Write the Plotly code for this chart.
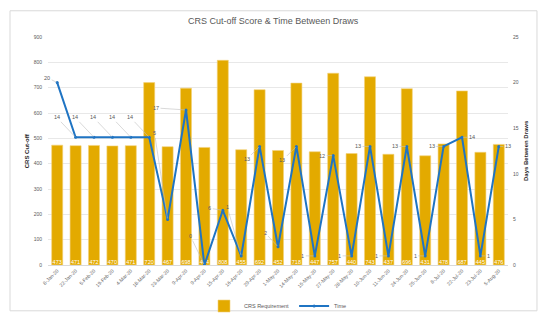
import plotly.graph_objects as go

dates = ["8-Jan-20", "22-Jan-20", "5-Feb-20", "19-Feb-20", "4-Mar-20", "18-Mar-20",
         "23-Mar-20", "9-Apr-20", "9-Apr-20", "15-Apr-20", "16-Apr-20", "29-Apr-20",
         "1-May-20", "14-May-20", "15-May-20", "27-May-20", "28-May-20", "10-Jun-20",
         "11-Jun-20", "24-Jun-20", "25-Jun-20", "8-Jul-20", "22-Jul-20", "23-Jul-20",
         "5-Aug-20"]
crs = [473, 471, 472, 470, 471, 720, 467, 698, 464, 808, 455, 692, 452, 718, 447,
       757, 440, 743, 437, 696, 431, 478, 687, 445, 476]
days = [20, 14, 14, 14, 14, 14, 5, 17, 0, 6, 1, 13, 2, 13, 1, 12, 1, 13, 1, 13, 1,
        13, 14, 1, 13]
left_ticks = [0, 100, 200, 300, 400, 500, 600, 700, 800, 900]
right_ticks = [0, 5, 10, 15, 20, 25]

# label offsets (pixels) for the line data labels (style only)
label_offsets = [(-10, -5), (-19, -20), (-19, -20), (-19, -20), (-19, -20), (-19, -20),
                 (-13, -86), (-30, -2), (-14, -29), (-13, -2), (-14, -49), (-13, 13),
                 (-13, -14), (-14, 14), (-12, 0), (-11, 0), (-12, 0), (-12, 0),
                 (-12, 0), (-12, 0), (-10, 0), (-12, 0), (10, 0), (8, 0), (9, 0)]

xs = list(range(len(dates)))
GOLD = "#E3AA00"
BLUE = "#1F74C3"
GRAY = "#595959"
FONT = "Liberation Sans"

fig = go.Figure()
fig.add_trace(go.Bar(
    x=xs, y=crs, name="CRS Requirement",
    marker=dict(color=GOLD, line=dict(color="#F3D27A", width=0.6)),
))
# bar value labels at the base of each bar
fig.add_trace(go.Scatter(
    x=xs, y=[0] * len(crs), mode="text", text=[str(v) for v in crs],
    textposition="top center", textfont=dict(color="white", size=5.5, family=FONT),
    showlegend=False, hoverinfo="skip", cliponaxis=False,
))
fig.add_trace(go.Scatter(
    x=xs, y=days, name="Time", yaxis="y2", mode="lines+markers",
    line=dict(color=BLUE, width=2),
    marker=dict(color=BLUE, size=3),
))

for i, (x, v) in enumerate(zip(xs, days)):
    ax, ay = label_offsets[i]
    fig.add_annotation(
        x=x, y=v, xref="x", yref="y2", text=str(v),
        showarrow=True, arrowhead=0, arrowwidth=0.6, arrowcolor="#BFBFBF",
        ax=ax, ay=ay, standoff=1,
        font=dict(size=5.5, color=GRAY, family=FONT),
    )

fig.add_annotation(x=-0.056, y=0.5, xref="paper", yref="paper", text="<b>CRS Cut-off</b>",
                   textangle=-90, showarrow=False,
                   font=dict(size=6, color="#262626", family=FONT))
fig.add_annotation(x=1.05, y=0.5, xref="paper", yref="paper", text="<b>Days Between Draws</b>",
                   textangle=-90, showarrow=False,
                   font=dict(size=6, color="#262626", family=FONT))

fig.add_shape(type="rect", xref="paper", yref="paper",
              x0=-0.0826, x1=1.063, y0=-0.2009, y1=1.115,
              line=dict(color="#D9D9D9", width=1), layer="below")

fig.update_layout(
    width=554, height=332,
    margin=dict(l=48, r=46, t=37, b=61),
    paper_bgcolor="white", plot_bgcolor="white",
    title=dict(text="CRS Cut-off Score & Time Between Draws", x=0.493, xref="container",
               y=0.937, yref="container", xanchor="center", yanchor="middle",
               font=dict(size=9, color=GRAY, family=FONT)),
    bargap=0.4,
    xaxis=dict(range=[-0.5, len(dates) - 0.5], tickvals=xs, ticktext=dates,
               tickangle=-45, tickfont=dict(size=5, color="#666666", family=FONT),
               showgrid=False, showline=True, linecolor="#D9D9D9", linewidth=1,
               ticks="", automargin=False),
    yaxis=dict(range=[0, 900], tickvals=left_ticks, showgrid=True, gridcolor="#E8E8E8",
               gridwidth=1, zeroline=False, showline=False, ticklabelstandoff=5,
               tickfont=dict(size=5, color=GRAY, family=FONT), automargin=False),
    yaxis2=dict(range=[0, 25], tickvals=right_ticks, overlaying="y", side="right",
                showgrid=False, zeroline=False, showline=False, ticklabelstandoff=4,
                tickfont=dict(size=5, color=GRAY, family=FONT), automargin=False),
    legend=dict(orientation="h", x=0.5, xanchor="center", y=-0.18, yanchor="middle",
                font=dict(size=5.5, color=GRAY, family=FONT), bgcolor="rgba(0,0,0,0)",
                itemwidth=30),
    showlegend=True,
)

fig.write_html("out.html")
